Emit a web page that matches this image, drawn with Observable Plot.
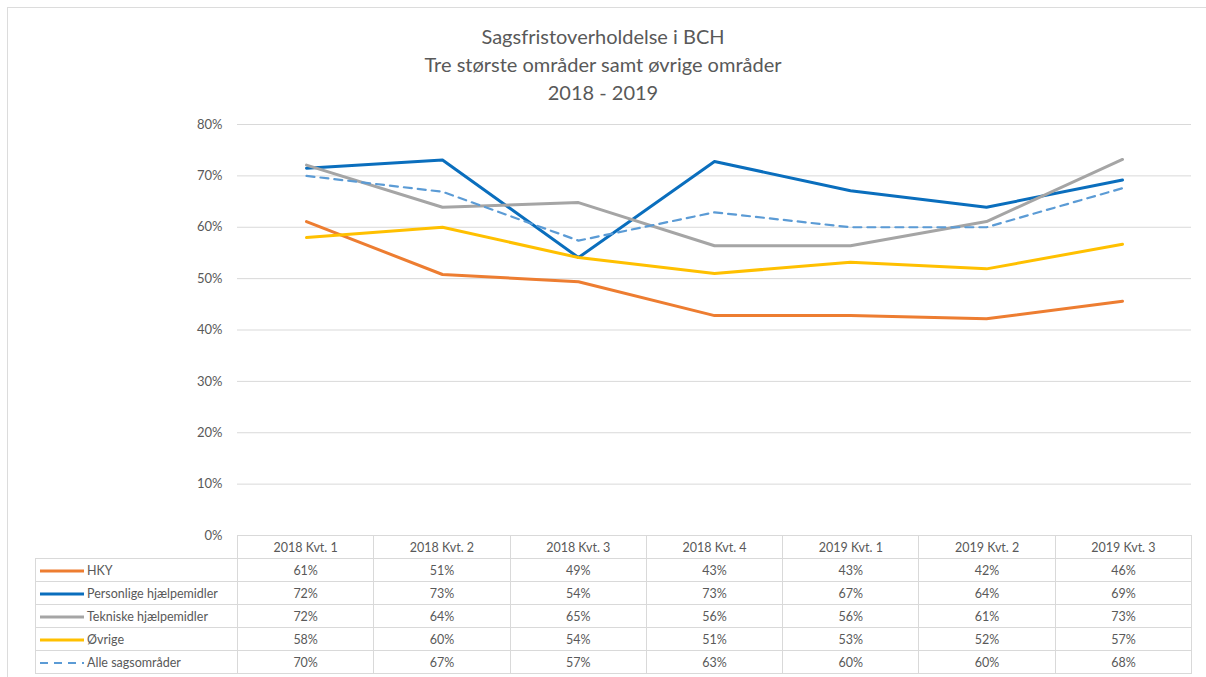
<!DOCTYPE html>
<html>
<head>
<meta charset="utf-8">
<script src="https://cdn.jsdelivr.net/npm/d3@7"></script>
<script src="https://cdn.jsdelivr.net/npm/@observablehq/plot@0.6"></script>
<style>
  html, body { margin: 0; padding: 0; background: #fff; }
  body { width: 1206px; height: 677px; position: relative; overflow: hidden; font-family: Lato, "Open Sans", sans-serif; color: #595959; }
  #frame { position: absolute; left: 7px; top: 7px; right: 0; bottom: 0; border-left: 1px solid #dcdcdc; border-top: 1px solid #dcdcdc; }
  #title { position: absolute; left: 0; top: 22px; width: 1206px; text-align: center; font-size: 20px; line-height: 28px; color: #595959; }
  #chart { position: absolute; left: 0; top: 110px; }
  table { position: absolute; left: 35px; top: 535px; border-collapse: collapse; font-size: 12.5px; color: #595959; }
  td { border: 1px solid #d9d9d9; height: 22px; padding: 0; text-align: center; }
  td.lab { text-align: left; width: 201px; white-space: nowrap; }
  td.num { width: 135.3px; }
  td.blank { border: none; }
  .key { display: inline-block; width: 44px; height: 10px; vertical-align: middle; margin: 0 3px 0 4px; }
</style>
</head>
<body>
<div id="frame"></div>
<div id="title">Sagsfristoverholdelse i BCH<br>Tre største områder samt øvrige områder<br>2018 - 2019</div>
<div id="chart"></div>
<table id="tbl"></table>
<script>
const quarters = ["2018 Kvt. 1", "2018 Kvt. 2", "2018 Kvt. 3", "2018 Kvt. 4", "2019 Kvt. 1", "2019 Kvt. 2", "2019 Kvt. 3"];
const seriesNames = ["HKY", "Personlige hjælpemidler", "Tekniske hjælpemidler", "Øvrige", "Alle sagsområder"];
const hky        = [61.1, 50.8, 49.4, 42.8, 42.8, 42.2, 45.6];
const personlige = [71.5, 73.1, 54.1, 72.8, 67.1, 63.9, 69.2];
const tekniske   = [72.1, 63.9, 64.8, 56.4, 56.4, 61.1, 73.2];
const ovrige     = [58.0, 60.0, 54.1, 51.0, 53.2, 51.9, 56.7];
const alle       = [70.0, 66.9, 57.4, 62.9, 60.0, 60.0, 67.6];
const yTicks = [0, 10, 20, 30, 40, 50, 60, 70, 80];

const seriesValues = [hky, personlige, tekniske, ovrige, alle];
const colors = ["#ED7D31", "#0A6EBD", "#A5A5A5", "#FFC000", "#5B9BD5"];

const rows = [];
seriesNames.forEach((s, i) => quarters.forEach((q, j) => rows.push({series: s, quarter: q, value: seriesValues[i][j] / 100})));

const solid = seriesNames.slice(0, 4);
const plot = Plot.plot({
  width: 1206,
  height: 435,
  marginLeft: 237,
  marginRight: 15,
  marginTop: 14,
  marginBottom: 10,
  style: {fontFamily: "Lato, 'Open Sans', sans-serif", fontSize: "13px", color: "#595959", background: "transparent"},
  x: {type: "point", domain: quarters, padding: 0.5, axis: null},
  y: {domain: [0, 0.8], ticks: yTicks.map(d => d / 100), tickFormat: d => Math.round(d * 100) + "%", label: null, tickSize: 0, tickPadding: 15},
  color: {domain: seriesNames, range: colors},
  marks: [
    Plot.gridY(yTicks.map(d => d / 100), {stroke: "#d9d9d9", strokeOpacity: 1, strokeWidth: 1}),
    Plot.axisY({ticks: yTicks.map(d => d / 100), tickFormat: d => Math.round(d * 100) + "%", tickSize: 0, tickPadding: 15, label: null, fill: "#595959"}),
    ...solid.map(s => Plot.line(rows.filter(r => r.series === s), {x: "quarter", y: "value", stroke: "series", strokeWidth: 3, strokeLinejoin: "round"})),
    Plot.line(rows.filter(r => r.series === "Alle sagsområder"), {x: "quarter", y: "value", stroke: "series", strokeWidth: 2.2, strokeDasharray: "8,6"})
  ]
});
document.getElementById("chart").appendChild(plot);

// data table
const tbl = document.getElementById("tbl");
let html = '<tr><td class="lab blank"></td>' + quarters.map(q => `<td class="num">${q}</td>`).join("") + '</tr>';
seriesNames.forEach((s, i) => {
  const dashed = i === 4;
  const key = dashed
    ? `<svg class="key" width="44" height="10"><line x1="0" y1="5" x2="44" y2="5" stroke="${colors[i]}" stroke-width="2" stroke-dasharray="8,6"/></svg>`
    : `<svg class="key" width="44" height="10"><line x1="0" y1="5" x2="44" y2="5" stroke="${colors[i]}" stroke-width="3"/></svg>`;
  html += `<tr><td class="lab">${key}${s}</td>` + seriesValues[i].map(v => `<td class="num">${Math.round(v)}%</td>`).join("") + '</tr>';
});
tbl.innerHTML = html;
</script>
</body>
</html>
